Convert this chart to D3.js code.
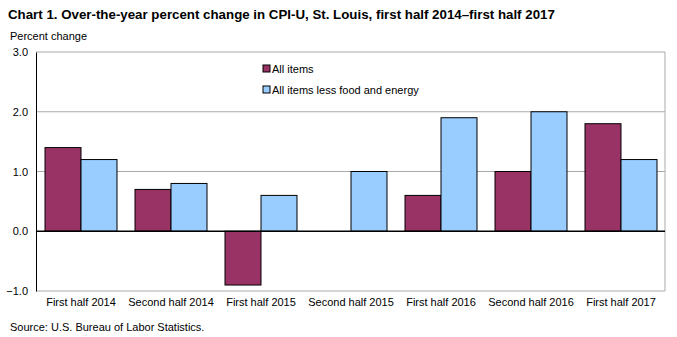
<!DOCTYPE html>
<html><head><meta charset="utf-8">
<script src="https://cdn.jsdelivr.net/npm/d3@7"></script>
<style>body{margin:0;background:#fff;}svg{display:block;font-family:"Liberation Sans",Arial,sans-serif;}</style>
</head><body><svg id="c" width="677" height="337"></svg>
<script>
const categories = ["First half 2014","Second half 2014","First half 2015","Second half 2015","First half 2016","Second half 2016","First half 2017"];
const seriesNames = ["All items","All items less food and energy"];
const allItems = [1.4, 0.7, -0.9, 0.0, 0.6, 1.0, 1.8];
const coreItems = [1.2, 0.8, 0.6, 1.0, 1.9, 2.0, 1.2];
const yTicks = [-1.0, 0.0, 1.0, 2.0, 3.0];
const colors = ["#993366", "#99CCFF"];

const svg = d3.select("#c");
const L = 36, R = 666, T = 52, B = 291;
const x0 = d3.scaleBand().domain(categories).range([L, R]).paddingInner(0.2).paddingOuter(0.1);
const x1 = d3.scaleBand().domain([0,1]).range([0, x0.bandwidth()]);
const y = d3.scaleLinear().domain([-1, 3]).range([B, T]);

// title
svg.append("text").attr("x", 8).attr("y", 19).attr("font-size", 13.3).attr("font-weight", "bold")
  .text("Chart 1. Over-the-year percent change in CPI-U, St. Louis, first  half 2014\u2013first  half 2017");
svg.append("text").attr("x", 10).attr("y", 40).attr("font-size", 11).text("Percent change");

// gridlines
svg.append("g").selectAll("line").data(yTicks.filter(d => d !== 0)).join("line")
  .attr("x1", L).attr("x2", R - 1).attr("y1", d => y(d)).attr("y2", d => y(d))
  .attr("stroke", "#aaa").attr("stroke-width", 1);
svg.append("line").attr("x1", R - 1).attr("x2", R - 1).attr("y1", T).attr("y2", B).attr("stroke", "#aaa");

// y axis
const yAxis = d3.axisLeft(y).tickValues(yTicks).tickFormat(d3.format(".1f")).tickSize(0).tickPadding(8);
const ga = svg.append("g").attr("transform", `translate(${L},0)`).call(yAxis);
ga.select(".domain").attr("stroke", "#000");
ga.selectAll("text").attr("font-size", 11).attr("fill", "#000").attr("font-family", "Liberation Sans, Arial, sans-serif");

// bars
const series = [allItems, coreItems];
const g = svg.append("g");
series.forEach((vals, si) => {
  g.selectAll(null).data(vals.map((v,i)=>({v, c: categories[i]})).filter(d => d.v !== 0)).join("rect")
    .attr("x", d => x0(d.c) + x1(si))
    .attr("width", x1.bandwidth())
    .attr("y", d => y(Math.max(0, d.v)))
    .attr("height", d => Math.abs(y(d.v) - y(0)))
    .attr("fill", colors[si]).attr("stroke", "#000").attr("stroke-width", 1);
});

// zero line
svg.append("line").attr("x1", L).attr("x2", R - 1).attr("y1", y(0)).attr("y2", y(0)).attr("stroke", "#000").attr("stroke-width", 1.5);

// x labels
const xAxis = d3.axisBottom(x0).tickSize(0).tickPadding(7);
const gx = svg.append("g").attr("transform", `translate(0,${B})`).call(xAxis);
gx.select(".domain").remove();
gx.selectAll("text").attr("font-size", 11).attr("fill", "#000").attr("font-family", "Liberation Sans, Arial, sans-serif");

// legend
const lg = svg.append("g");
seriesNames.forEach((n, i) => {
  const ly = 69 + i * 21;
  lg.append("rect").attr("x", 263).attr("y", ly - 4).attr("width", 7).attr("height", 7)
    .attr("fill", colors[i]).attr("stroke", "#000").attr("stroke-width", 1);
  lg.append("text").attr("x", 272).attr("y", ly + 4).attr("font-size", 11).text(n);
});

svg.append("text").attr("x", 10).attr("y", 331).attr("font-size", 11).text("Source: U.S. Bureau of Labor Statistics.");
</script></body></html>
